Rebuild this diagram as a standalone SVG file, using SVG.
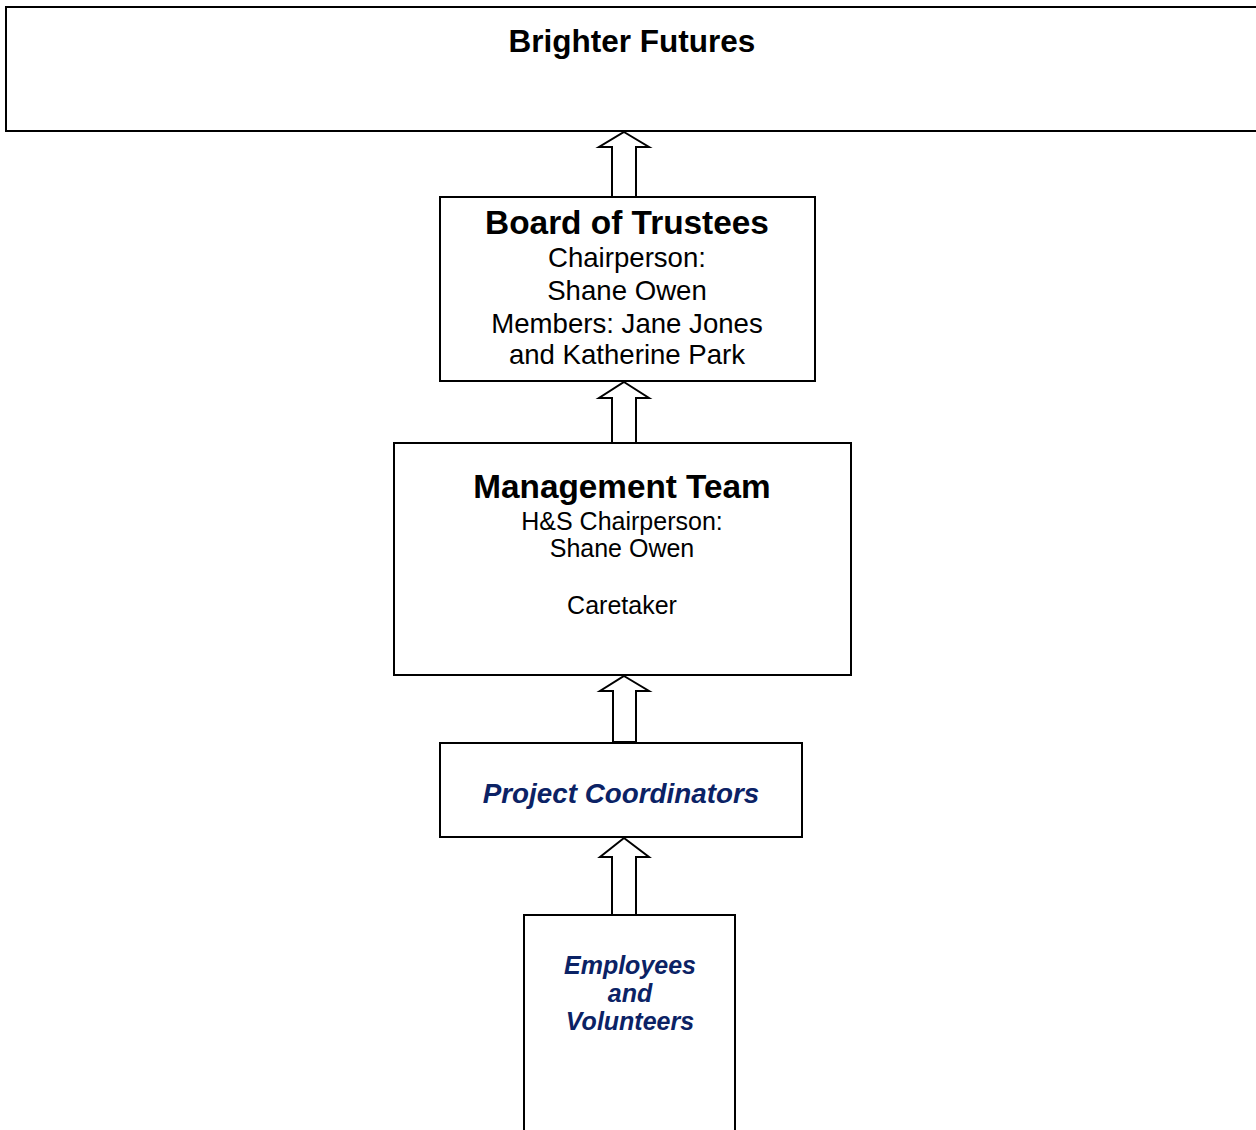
<svg xmlns="http://www.w3.org/2000/svg" width="1256" height="1130" viewBox="0 0 1256 1130">
<style>
.box{fill:#fff;stroke:#000;stroke-width:2}
.arr{fill:#fff;stroke:#000;stroke-width:2;stroke-linejoin:miter}
text{font-family:"Liberation Sans",Arial,sans-serif;text-anchor:middle;fill:#000}
.t{font-weight:bold}
.n{font-weight:bold;font-style:italic;fill:#0b2265}
</style>
<rect width="1256" height="1130" fill="#fff"/>
<g id="brighter-futures">
<rect class="box" x="6" y="7" width="1260" height="124"/>
<text class="t" x="632" y="52" font-size="31.5">Brighter Futures</text>
</g>
<g id="board">
<rect class="box" x="440" y="197" width="375" height="184"/>
<text class="t" x="627" y="234" font-size="33.4">Board of Trustees</text>
<text x="627" y="267" font-size="27.6">Chairperson:</text>
<text x="627" y="300" font-size="27.6">Shane Owen</text>
<text x="627" y="333" font-size="27.6">Members: Jane Jones</text>
<text x="627" y="364" font-size="27.6">and Katherine Park</text>
</g>
<g id="management">
<rect class="box" x="394" y="443" width="457" height="232"/>
<text class="t" x="622" y="498" font-size="33.3">Management Team</text>
<text x="622" y="530" font-size="25">H&amp;S Chairperson:</text>
<text x="622" y="557" font-size="25">Shane Owen</text>
<text x="622" y="614" font-size="25">Caretaker</text>
</g>
<g id="coordinators">
<rect class="box" x="440" y="743" width="362" height="94"/>
<text class="n" x="621" y="803" font-size="27.8">Project Coordinators</text>
</g>
<g id="employees">
<rect class="box" x="524" y="915" width="211" height="230"/>
<text class="n" x="630" y="974" font-size="25">Employees</text>
<text class="n" x="630" y="1002" font-size="25">and</text>
<text class="n" x="630" y="1030" font-size="25">Volunteers</text>
</g>
<g id="connectors">
<polygon class="arr" points="624,132 649,147 636,147 636,197 612,197 612,147 599,147"/>
<polygon class="arr" points="624,382 649,398 636,398 636,443 612,443 612,398 599,398"/>
<polygon class="arr" points="624,676 649,691 636,691 636,742 613,742 613,691 600,691"/>
<polygon class="arr" points="624,838 649,857 636,857 636,915 612,915 612,857 600,857"/>
</g>
</svg>
